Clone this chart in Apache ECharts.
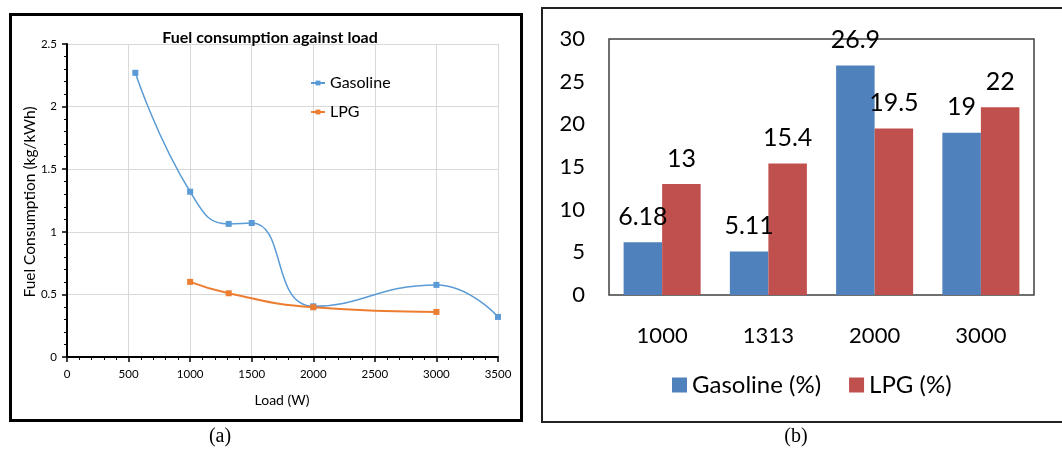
<!DOCTYPE html>
<html><head><meta charset="utf-8">
<script src="https://cdn.jsdelivr.net/npm/echarts@6/dist/echarts.min.js"></script>
<style>
html,body{margin:0;padding:0;background:#fff;overflow:hidden;width:1062px;height:450px}
#c{position:absolute;left:0;top:0;width:1062px;height:450px;z-index:1}
.box{position:absolute;z-index:0}
#boxA{left:9px;top:13px;width:508px;height:403px;border:3px solid #000}
#boxB{left:541px;top:7px;width:540px;height:412px;border:2px solid #222}
</style>
</head><body>
<div id="boxA" class="box"></div><div id="boxB" class="box"></div>
<div id="c"></div>
<script>
// Panel (a): fuel consumption vs load
const gasolineLoad = [555, 1000, 1313, 1500, 2000, 3000, 3500];
const gasolineFuel = [2.27, 1.32, 1.063, 1.07, 0.405, 0.576, 0.32];
const lpgLoad = [1000, 1313, 2000, 3000];
const lpgFuel = [0.60, 0.509, 0.397, 0.36];
// Panel (b): percentages
const barCategories = ['1000', '1313', '2000', '3000'];
const gasolinePct = [6.18, 5.11, 26.9, 19];
const lpgPct = [13, 15.4, 19.5, 22];

const pair = (xs, ys) => xs.map((x, i) => [x, ys[i]]);
const F = 'Lato, sans-serif';
const chart = echarts.init(document.getElementById('c'), null, {renderer: 'canvas'});
chart.setOption({
  animation: false,
  title: [{
    text: 'Fuel consumption against load', left: 265, top: 25, textAlign: 'center',
    textStyle: {fontFamily: F, fontSize: 16, fontWeight: 'bold', color: '#000'}
  }],
  legend: [{
    data: ['Gasoline', 'LPG'], orient: 'vertical', left: 305, top: 70, itemGap: 13,
    itemWidth: 14, itemHeight: 6,
    textStyle: {fontFamily: F, fontSize: 16, color: '#000'}
  }, {
    data: ['Gasoline (%)', 'LPG (%)'], left: 667, top: 368, itemGap: 28,
    itemWidth: 15, itemHeight: 15, icon: 'rect',
    textStyle: {fontFamily: F, fontSize: 24, color: '#000'}
  }],
  grid: [
    {left: 67, right: 564, top: 44, bottom: 93},
    {left: 609, right: 28, top: 39, bottom: 155, show: true, borderColor: '#404040', borderWidth: 1.5}
  ],
  xAxis: [{
    gridIndex: 0, type: 'value', min: 0, max: 3500, interval: 500,
    axisLine: {show: true, lineStyle: {color: '#000', width: 2}},
    axisTick: {show: true, length: 5, lineStyle: {color: '#000', width: 1.5}},
    minorTick: {show: true, splitNumber: 5, length: 3, lineStyle: {color: '#000', width: 1}},
    axisLabel: {fontFamily: F, fontSize: 11.5, color: '#000', margin: 11, formatter: v => String(v)},
    splitLine: {show: true, lineStyle: {color: '#d9d9d9', width: 1}}
  }, {
    gridIndex: 1, type: 'category', data: barCategories,
    axisLine: {show: false}, axisTick: {show: false},
    axisLabel: {fontFamily: F, fontSize: 22, color: '#000', margin: 30}
  }],
  yAxis: [{
    gridIndex: 0, type: 'value', min: 0, max: 2.5, interval: 0.5,
    axisLine: {show: true, lineStyle: {color: '#000', width: 2}},
    axisTick: {show: true, length: 5, lineStyle: {color: '#000', width: 1.5}},
    minorTick: {show: true, splitNumber: 5, length: 3, lineStyle: {color: '#000', width: 1}},
    axisLabel: {fontFamily: F, fontSize: 11.5, color: '#000', margin: 10},
    splitLine: {show: true, lineStyle: {color: '#d9d9d9', width: 1}}
  }, {
    gridIndex: 1, type: 'value', min: 0, max: 30, interval: 5,
    axisLine: {show: false}, axisTick: {show: false}, splitLine: {show: false},
    axisLabel: {fontFamily: F, fontSize: 22, color: '#000', margin: 24}
  }],
  series: [{
    name: 'Gasoline', type: 'line', xAxisIndex: 0, yAxisIndex: 0,
    data: pair(gasolineLoad, gasolineFuel), smooth: 0.5,
    symbol: 'rect', symbolSize: 6, color: '#5B9BD5',
    lineStyle: {width: 1.5, color: '#5B9BD5'}, itemStyle: {color: '#5B9BD5'}
  }, {
    name: 'LPG', type: 'line', xAxisIndex: 0, yAxisIndex: 0,
    data: pair(lpgLoad, lpgFuel), smooth: 0.5,
    symbol: 'rect', symbolSize: 6, color: '#ED7D31',
    lineStyle: {width: 2, color: '#ED7D31'}, itemStyle: {color: '#ED7D31'}
  }, {
    name: 'Gasoline (%)', type: 'bar', xAxisIndex: 1, yAxisIndex: 1,
    data: gasolinePct, barGap: '0%', barCategoryGap: '27.5%',
    itemStyle: {color: '#4F81BD'},
    label: {show: true, position: 'top', distance: 13, fontFamily: F, fontSize: 25, color: '#000'}
  }, {
    name: 'LPG (%)', type: 'bar', xAxisIndex: 1, yAxisIndex: 1,
    data: lpgPct, barGap: '0%', barCategoryGap: '27.5%',
    itemStyle: {color: '#C0504D'},
    label: {show: true, position: 'top', distance: 13, fontFamily: F, fontSize: 25, color: '#000'}
  }],
  graphic: [
    {type: 'text', x: 282, y: 400, style: {text: 'Load (W)', font: '14px Lato', fill: '#000', align: 'center', verticalAlign: 'middle'}},
    {type: 'text', x: 30, y: 202, rotation: Math.PI / 2, style: {text: 'Fuel Consumption (kg/kWh)', font: '15.5px Lato', fill: '#000', align: 'center', verticalAlign: 'middle'}},
    {type: 'text', x: 220, y: 437, style: {text: '(a)', font: '20px "Liberation Serif", serif', fill: '#000', align: 'center', verticalAlign: 'middle'}},
    {type: 'text', x: 796, y: 437, style: {text: '(b)', font: '20px "Liberation Serif", serif', fill: '#000', align: 'center', verticalAlign: 'middle'}}
  ]
});
</script></body></html>
